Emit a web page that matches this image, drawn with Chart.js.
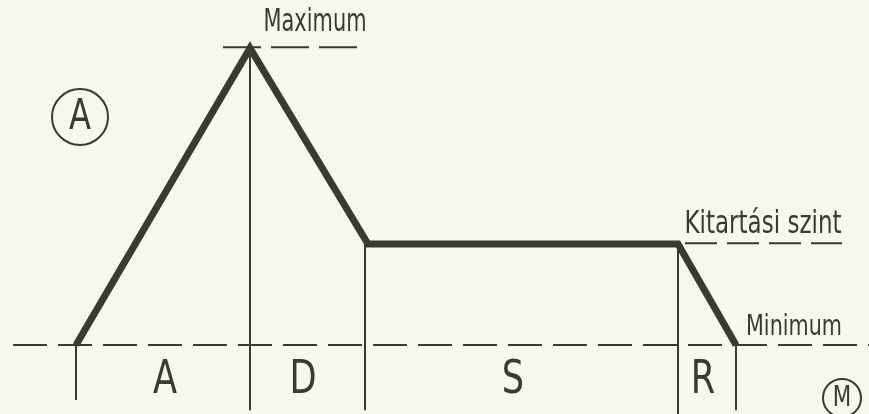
<!DOCTYPE html>
<html>
<head>
<meta charset="utf-8">
<script src="https://cdn.jsdelivr.net/npm/chart.js@4"></script>
<style>
  html, body { margin: 0; padding: 0; background: #f7f7ef; }
  canvas { display: block; }
</style>
</head>
<body>
<canvas id="c" width="869" height="414"></canvas>
<script>
// ---- Data (time in arbitrary units, level: Minimum = 0, Maximum = 100) ----
const phases = ['A', 'D', 'S', 'R'];
const envTime = [0, 17.4, 29.2, 60.2, 66.0];
const envLevel = [0, 100, 34, 34, 0];
const markerTime = [0, 17.4, 28.9, 60.2, 66.0];
const markerTop = [0, 100, 34, 34, 0];
const markerBottom = [-18.5, -21.9, -21.9, -23.4, -21.9];
const levelNames = ['Maximum', 'Kitartási szint', 'Minimum'];
const circleTags = ['A', 'M'];

const INK = '#3b3a32';
const FONT = '"DejaVu Sans Condensed", "Liberation Sans Narrow", sans-serif';

// layout (positions of annotations, in axis units)
const phaseLabelX = [8.9, 22.7, 43.7, 62.7];
const phaseLabelY = -12.1;
// [x, y, font size, target width px]
const levelLabelPos = [[23.9, 108.6, 32, 103], [68.7, 40.4, 32, 157], [71.8, 5.7, 28, 96]];
// [x, y, radius px, font size]
const circlePos = [[0.4, 76.8, 28, 42], [76.6, -17.8, 19, 28]];

const datasets = [];
datasets.push({ data: [{x: -6.3, y: 0}, {x: 79.3, y: 0}], borderColor: INK, borderWidth: 2, borderDash: [34, 11], pointRadius: 0 });
datasets.push({ data: [{x: 14.7, y: 100.3}, {x: 28.4, y: 100.3}], borderColor: INK, borderWidth: 2, borderDash: [38, 10], pointRadius: 0 });
datasets.push({ data: [{x: 60.9, y: 34.3}, {x: 76.6, y: 34.3}], borderColor: INK, borderWidth: 2, borderDash: [32, 10], pointRadius: 0 });
markerTime.forEach((t, i) => {
  datasets.push({ data: [{x: t, y: markerTop[i]}, {x: t, y: markerBottom[i]}], borderColor: INK, borderWidth: 2, pointRadius: 0 });
});
datasets.push({ data: envTime.map((t, i) => ({x: t, y: envLevel[i]})), borderColor: INK, borderWidth: 7, pointRadius: 0, borderJoinStyle: 'miter', borderCapStyle: 'butt' });
circlePos.forEach(p => {
  datasets.push({ data: [{x: p[0], y: p[1]}], showLine: false, pointStyle: 'circle', pointRadius: p[2], borderColor: INK, borderWidth: 2, backgroundColor: 'rgba(0,0,0,0)' });
});
datasets.forEach(d => { d.clip = false; d.fill = false; d.tension = 0; });

const textPlugin = {
  id: 'texts',
  afterDatasetsDraw(chart) {
    const {ctx, scales: {x, y}} = chart;
    ctx.save();
    ctx.fillStyle = INK;
    ctx.textAlign = 'center';
    ctx.textBaseline = 'middle';
    phases.forEach((p, i) => {
      ctx.font = '46px ' + FONT;
      ctx.save();
      ctx.translate(x.getPixelForValue(phaseLabelX[i]), y.getPixelForValue(phaseLabelY));
      ctx.scale(0.85, 1);
      ctx.fillText(p, 0, 0);
      ctx.restore();
    });
    levelNames.forEach((n, i) => {
      const [lx, ly, fs, tw] = levelLabelPos[i];
      ctx.font = fs + 'px ' + FONT;
      const w = ctx.measureText(n).width;
      ctx.save();
      ctx.translate(x.getPixelForValue(lx), y.getPixelForValue(ly));
      ctx.scale(tw / w, 1);
      ctx.fillText(n, 0, 0);
      ctx.restore();
    });
    circleTags.forEach((t, i) => {
      const [cx, cy, r, fs] = circlePos[i];
      ctx.font = fs + 'px ' + FONT;
      ctx.save();
      ctx.translate(x.getPixelForValue(cx), y.getPixelForValue(cy) + 1);
      ctx.scale(0.85, 1);
      ctx.fillText(t, 0, 0);
      ctx.restore();
    });
    ctx.restore();
  }
};

new Chart(document.getElementById('c'), {
  type: 'line',
  data: { datasets },
  options: {
    responsive: false,
    animation: false,
    layout: { padding: 0, autoPadding: false },
    plugins: { legend: { display: false }, tooltip: { enabled: false } },
    scales: {
      x: { type: 'linear', min: -7.6, max: 79.3, display: false },
      y: { type: 'linear', min: -23.2, max: 116.2, display: false }
    }
  },
  plugins: [textPlugin]
});
</script>
</body>
</html>
